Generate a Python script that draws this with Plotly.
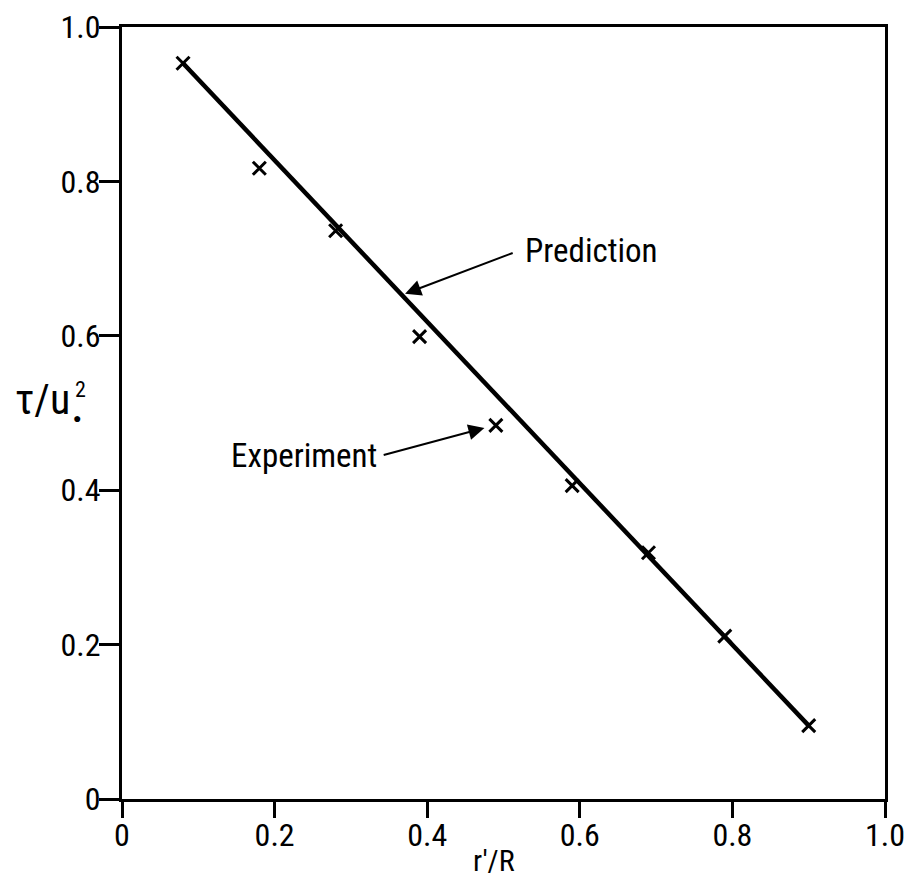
import plotly.graph_objects as go

# Measured shear stress across the pipe radius
r_over_R = [0.08, 0.18, 0.28, 0.39, 0.49, 0.59, 0.69, 0.79, 0.90]
tau_experiment = [0.953, 0.817, 0.736, 0.599, 0.484, 0.406, 0.319, 0.211, 0.095]

# Predicted (linear) shear stress distribution
pred_r = [0.08, 0.90]
pred_tau = [0.953, 0.095]

tick_vals = [0, 0.2, 0.4, 0.6, 0.8, 1.0]
tick_text = ["0", "0.2", "0.4", "0.6", "0.8", "1.0"]

FONT = "Liberation Sans Narrow, Roboto Condensed, Liberation Sans, sans-serif"

fig = go.Figure()

fig.add_trace(go.Scatter(
    x=pred_r, y=pred_tau, mode="lines",
    line=dict(color="black", width=4.5),
    showlegend=False, hoverinfo="skip",
))
fig.add_trace(go.Scatter(
    x=r_over_R, y=tau_experiment, mode="markers",
    marker=dict(symbol="x-thin", size=13, line=dict(color="black", width=3)),
    showlegend=False,
))

# Callout arrows
fig.add_annotation(x=0.371, y=0.6545, ax=0.514, ay=0.708, xref="x", yref="y",
                   axref="x", ayref="y", text="", showarrow=True,
                   arrowhead=2, arrowsize=1.6, arrowwidth=2, arrowcolor="black")
fig.add_annotation(x=0.475, y=0.4806, ax=0.341, ay=0.445, xref="x", yref="y",
                   axref="x", ayref="y", text="", showarrow=True,
                   arrowhead=2, arrowsize=1.6, arrowwidth=2, arrowcolor="black")

# Callout labels
fig.add_annotation(x=0.526, y=0.711, xref="x", yref="y", text="Prediction",
                   showarrow=False, xanchor="left", yanchor="middle",
                   font=dict(family=FONT, size=33, color="black"))
fig.add_annotation(x=0.337, y=0.445, xref="x", yref="y", text="Experiment",
                   showarrow=False, xanchor="right", yanchor="middle",
                   font=dict(family=FONT, size=33, color="black"))

# Y-axis title: tau / u* squared, with stacked sub/superscript
fig.add_annotation(x=-0.143, y=0.517, xref="paper", yref="y", text="τ/u",
                   showarrow=False, xanchor="left", yanchor="middle",
                   font=dict(family=FONT, size=42, color="black"))
fig.add_annotation(x=-0.064, y=0.512, xref="paper", yref="y", text="2",
                   showarrow=False, xanchor="left", yanchor="bottom",
                   font=dict(family=FONT, size=22, color="black"))
fig.add_annotation(x=-0.059, y=0.494, xref="paper", yref="y", text="●",
                   showarrow=False, xanchor="center", yanchor="middle",
                   font=dict(family=FONT, size=14, color="black"))

# X-axis title
fig.add_annotation(x=0.487, y=0.0, xref="paper", yref="paper", text="r'/R",
                   yshift=-42, showarrow=False, xanchor="center", yanchor="top",
                   font=dict(family=FONT, size=30, color="black"))

axis_common = dict(
    range=[0, 1.0], tickvals=tick_vals, ticktext=tick_text,
    showgrid=False, zeroline=False, showline=True, linecolor="black",
    linewidth=3, mirror=True, ticks="outside", tickcolor="black",
    tickwidth=2.5, tickfont=dict(family=FONT, size=32, color="black"),
    ticklabeloverflow="allow", automargin=False,
)

fig.update_xaxes(**axis_common, ticklen=16, ticklabelstandoff=-10)
fig.update_yaxes(**axis_common, ticklen=20, ticklabelstandoff=-8)

fig.update_layout(
    width=908, height=883,
    margin=dict(l=122, r=23, t=27, b=84, autoexpand=False),
    plot_bgcolor="white", paper_bgcolor="white",
    showlegend=False,
)

fig.write_html("out.html")
